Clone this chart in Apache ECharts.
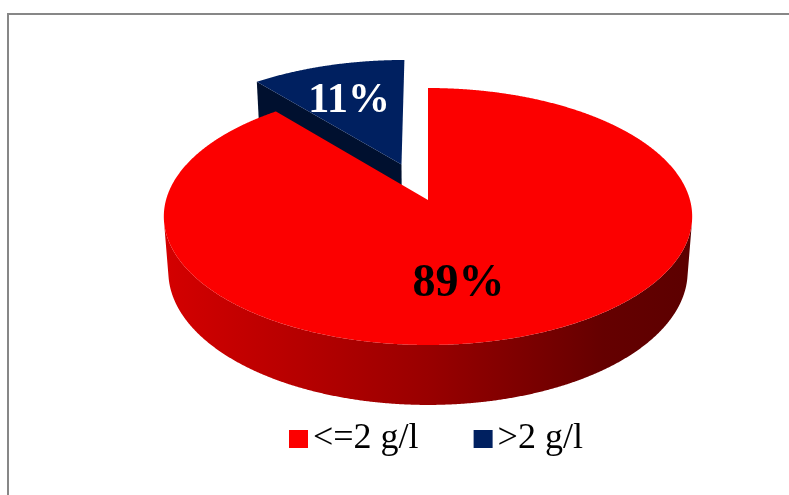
<!DOCTYPE html>
<html>
<head>
<meta charset="utf-8">
<script src="https://cdn.jsdelivr.net/npm/echarts@6/dist/echarts.min.js"></script>
<style>
  html, body { margin: 0; padding: 0; background: #ffffff; overflow: hidden; }
  #chart { width: 789px; height: 495px; }
</style>
</head>
<body>
<div id="chart"></div>
<script>
// Share of samples by concentration class (percent)
const categories = ['<=2 g/l', '>2 g/l'];
const shares = [89, 11];

// Look of each slice: top face, outer wall gradient, radial cut face
const sliceStyle = [
  {
    top: '#fc0000',
    wall: [[0, '#d40000'], [0.5, '#990000'], [0.83, '#650000'], [1, '#5c0000']],
    cut: '#8a0000',
    explode: 0,
    label: { color: '#000000', size: 46, dx: -30, dy: 3 }
  },
  {
    top: '#002060',
    wall: [[0, '#001a50'], [1, '#000c28']],
    cut: '#00102f',
    explode: 0.31,
    label: { color: '#ffffff', size: 42, dx: -4, dy: 2 }
  }
];

// Perspective camera for the tilted disc (unit radius)
const view = { cx: 428, cy: 200, focal: 1787.6, dist: 6.823, tilt: 28.84, thickness: 0.243, labelRadius: 0.63 };
const sinT = Math.sin(view.tilt * Math.PI / 180);
const cosT = Math.cos(view.tilt * Math.PI / 180);
const serif = '"Liberation Serif", "Times New Roman", serif';

// u: right, w: away from viewer, z: up
function project(u, w, z) {
  const depth = view.dist + w * cosT - z * sinT;
  return [view.cx + view.focal * u / depth, view.cy - view.focal * (w * sinT + z * cosT) / depth];
}

// angles run clockwise from 12 o'clock
function rim(a, ou, ow, z) {
  return project(ou + Math.sin(a), ow + Math.cos(a), z);
}

function sliceRenderer(idx) {
  return function (params, api) {
    const total = shares.reduce((s, v) => s + v, 0);
    const value = api.value(0);
    const before = shares.slice(0, idx).reduce((s, v) => s + v, 0);
    const a0 = before / total * Math.PI * 2;
    const a1 = a0 + value / total * Math.PI * 2;
    const mid = (a0 + a1) / 2;
    const st = sliceStyle[idx];
    const ou = st.explode * Math.sin(mid);
    const ow = st.explode * Math.cos(mid);
    const h = -view.thickness;
    const camU = 0, camW = -view.dist * cosT;
    const children = [];

    // outer wall: only the part facing the camera
    const step = Math.PI / 720;
    let run = [];
    const runs = [];
    for (let a = a0; a <= a1 + 1e-9; a += step) {
      const facing = (camU - ou - Math.sin(a)) * Math.sin(a) + (camW - ow - Math.cos(a)) * Math.cos(a);
      if (facing > 0) {
        run.push(a);
      } else if (run.length) {
        runs.push(run); run = [];
      }
    }
    if (run.length) runs.push(run);
    runs.forEach(function (r) {
      if (r.length < 2) return;
      const pts = r.map(a => rim(a, ou, ow, 0));
      for (let k = r.length - 1; k >= 0; k--) pts.push(rim(r[k], ou, ow, h));
      children.push({
        type: 'polygon',
        shape: { points: pts },
        style: {
          fill: new echarts.graphic.LinearGradient(0, 0, 1, 0,
            st.wall.map(s => ({ offset: s[0], color: s[1] })))
        }
      });
    });

    // radial cut faces
    const apexTop = project(ou, ow, 0);
    const apexBot = project(ou, ow, h);
    [[a0, -1], [a1, 1]].forEach(function (f) {
      const a = f[0], sgn = f[1];
      const nu = sgn * Math.cos(a), nw = -sgn * Math.sin(a);
      const facing = (camU - ou) * nu + (camW - ow) * nw;
      if (facing > 0.2) {
        children.push({
          type: 'polygon',
          shape: { points: [apexTop, rim(a, ou, ow, 0), rim(a, ou, ow, h), apexBot] },
          style: { fill: st.cut }
        });
      }
    });

    // top face
    const topPts = [apexTop];
    for (let a = a0; a <= a1 + 1e-9; a += step) topPts.push(rim(a, ou, ow, 0));
    topPts.push(rim(a1, ou, ow, 0));
    children.push({ type: 'polygon', shape: { points: topPts }, style: { fill: st.top } });

    // percentage label
    const lp = project(ou + view.labelRadius * Math.sin(mid), ow + view.labelRadius * Math.cos(mid), 0);
    children.push({
      type: 'text',
      x: lp[0] + st.label.dx,
      y: lp[1] + st.label.dy,
      style: {
        text: Math.round(value / total * 100) + '%',
        fill: st.label.color,
        font: 'bold ' + st.label.size + 'px ' + serif,
        align: 'center',
        verticalAlign: 'middle'
      }
    });

    return { type: 'group', children: children };
  };
}

const chart = echarts.init(document.getElementById('chart'), null, { renderer: 'canvas' });
chart.setOption({
  animation: false,
  backgroundColor: '#ffffff',
  // chart-area frame: top and left edges
  graphic: [{
    type: 'polyline',
    shape: { points: [[8, 495], [8, 14], [789, 14]] },
    style: { fill: 'none', stroke: '#878787', lineWidth: 2 },
    silent: true,
    z: 0
  }],
  legend: {
    data: categories,
    left: 289,
    top: 421,
    padding: 0,
    itemWidth: 19,
    itemHeight: 18,
    itemGap: 55,
    icon: 'rect',
    selectedMode: false,
    textStyle: { fontFamily: serif, fontSize: 36, lineHeight: 36, color: '#000000' }
  },
  series: categories.map(function (name, i) {
    return {
      type: 'custom',
      name: name,
      coordinateSystem: 'none',
      z: 10 - i,
      silent: true,
      itemStyle: { color: sliceStyle[i].top },
      data: [{ name: name, value: shares[i] }],
      renderItem: sliceRenderer(i)
    };
  })
});
</script>
</body>
</html>
